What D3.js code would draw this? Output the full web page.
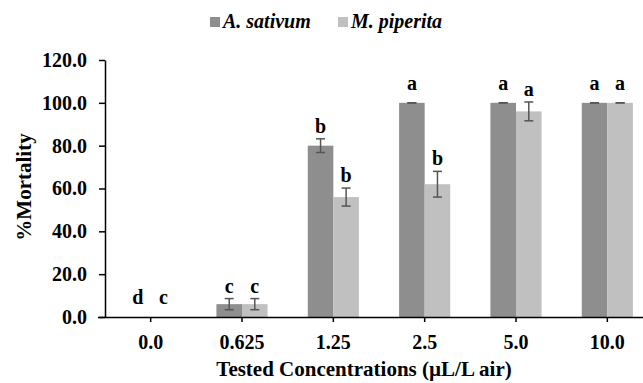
<!DOCTYPE html>
<html>
<head>
<meta charset="utf-8">
<script src="https://cdn.jsdelivr.net/npm/d3@7"></script>
<style>
  body { margin: 0; background: #fff; }
  text { font-family: "Liberation Serif", "Times New Roman", serif; font-weight: bold; fill: #000; }
</style>
</head>
<body>
<div id="chart"></div>
<script>

// chart data
var concentrations = ["0.0", "0.625", "1.25", "2.5", "5.0", "10.0"];
var seriesNames = ["A. sativum", "M. piperita"];
var sativum = [0, 6, 80, 100, 100, 100];
var piperita = [0, 6, 56, 62, 96, 100];
var sativumErr = [0, 2.6, 3.2, 0, 0, 0];
var piperitaErr = [0, 2.6, 4.2, 6, 4.4, 0];
var sativumLetters = ["d", "c", "b", "a", "a", "a"];
var piperitaLetters = ["c", "c", "b", "b", "a", "a"];
var yTicks = [0, 20, 40, 60, 80, 100, 120];

var colors = ["#8e8e8e", "#c0c0c0"];

var width = 643, height = 383;

var svg = d3.select("#chart").append("svg")
  .attr("width", width)
  .attr("height", height);

// scales
var x0 = d3.scaleBand()
  .domain(concentrations)
  .range([105, 653])
  .paddingInner(0.44)
  .paddingOuter(0.22);

var x1 = d3.scaleBand()
  .domain(seriesNames)
  .range([0, x0.bandwidth()]);

var y = d3.scaleLinear()
  .domain([0, 120])
  .range([317, 60]);

// put data in rows
var rows = [];
concentrations.forEach(function(c, i) {
  rows.push({conc: c, series: seriesNames[0], value: sativum[i], err: sativumErr[i], letter: sativumLetters[i], color: colors[0]});
  rows.push({conc: c, series: seriesNames[1], value: piperita[i], err: piperitaErr[i], letter: piperitaLetters[i], color: colors[1]});
});

// bars
svg.append("g").selectAll("rect")
  .data(rows)
  .enter().append("rect")
    .attr("x", function(d) { return x0(d.conc) + x1(d.series); })
    .attr("y", function(d) { return y(d.value); })
    .attr("width", x1.bandwidth())
    .attr("height", function(d) { return y(0) - y(d.value); })
    .style("fill", function(d) { return d.color; });

// error bars
var eb = svg.append("g").selectAll("g")
  .data(rows.filter(function(d) { return d.value > 0; }))
  .enter().append("g")
    .attr("transform", function(d) { return "translate(" + (x0(d.conc) + x1(d.series) + x1.bandwidth() / 2) + ",0)"; })
    .style("stroke", "#555")
    .style("stroke-width", 1.5);

eb.append("line")
  .attr("y1", function(d) { return y(d.value + d.err); })
  .attr("y2", function(d) { return y(d.value - d.err); });
eb.append("line")
  .attr("x1", -4.5).attr("x2", 4.5)
  .attr("y1", function(d) { return y(d.value + d.err); })
  .attr("y2", function(d) { return y(d.value + d.err); });
eb.append("line")
  .attr("x1", -4.5).attr("x2", 4.5)
  .attr("y1", function(d) { return y(d.value - d.err); })
  .attr("y2", function(d) { return y(d.value - d.err); });

// significance letters
svg.append("g").selectAll("text")
  .data(rows)
  .enter().append("text")
    .attr("x", function(d) { return x0(d.conc) + x1(d.series) + x1.bandwidth() / 2; })
    .attr("y", function(d) { return y(d.value + d.err) - (d.err > 0 ? 6 : 13); })
    .attr("text-anchor", "middle")
    .style("font-size", "20px")
    .text(function(d) { return d.letter; });

// axes
var yAxis = d3.axisLeft(y)
  .tickValues(yTicks)
  .tickSize(6)
  .tickSizeOuter(0)
  .tickPadding(12)
  .tickFormat(d3.format(".1f"));

var yGuide = svg.append("g")
  .attr("transform", "translate(105,0)")
  .call(yAxis);

var xAxis = d3.axisBottom(x0)
  .tickSize(5)
  .tickSizeOuter(0)
  .tickPadding(13);

var xGuide = svg.append("g")
  .attr("transform", "translate(0," + y(0) + ")")
  .call(xAxis);

[yGuide, xGuide].forEach(function(g) {
  g.selectAll("path").style("stroke", "#000").style("stroke-width", 1.5);
  g.selectAll("line").style("stroke", "#000").style("stroke-width", 1.5);
  g.selectAll("text")
    .style("font-family", "'Liberation Serif', serif")
    .style("font-weight", "bold")
    .style("font-size", "20px")
    .style("fill", "#000");
});
xGuide.select(".domain").attr("d", "M98,0.5H653");

// axis titles
svg.append("text")
  .attr("transform", "translate(31,187)rotate(-90)")
  .attr("text-anchor", "middle")
  .style("font-size", "21px")
  .text("%Mortality");

svg.append("text")
  .attr("x", 364)
  .attr("y", 376)
  .attr("text-anchor", "middle")
  .style("font-size", "21px")
  .text("Tested Concentrations (\u00b5L/L air)");

// legend
var legend = svg.append("g").selectAll("g")
  .data(seriesNames)
  .enter().append("g")
    .attr("transform", function(d, i) { return "translate(" + [210, 338][i] + ",17)"; });

legend.append("rect")
  .attr("width", 10)
  .attr("height", 10)
  .style("fill", function(d, i) { return colors[i]; });

legend.append("text")
  .attr("x", 13)
  .attr("y", 11)
  .style("font-size", "20px")
  .style("font-style", "italic")
  .text(function(d) { return d; });

</script>
</body>
</html>
